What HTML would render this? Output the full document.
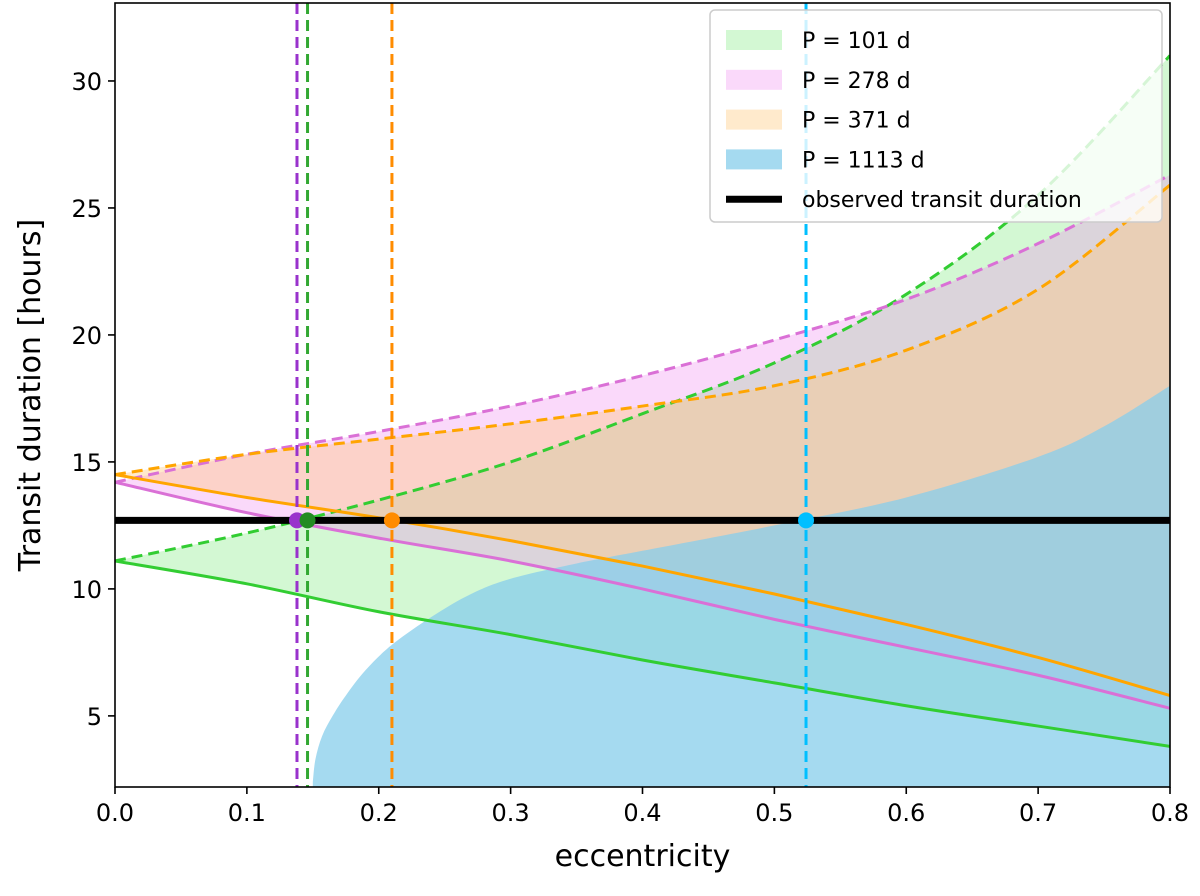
<!DOCTYPE html>
<html><head><meta charset="utf-8"><style>
body{margin:0;background:#fff;font-family:"Liberation Sans","DejaVu Sans",sans-serif}
svg text{font-family:"DejaVu Sans","Liberation Sans",sans-serif}
</style></head><body>
<svg id="c" width="1200" height="891"></svg>
<script>
const ecc=[0,0.1,0.2,0.3,0.4,0.5,0.6,0.7,0.8];
const greenUpper=[11.1,12.2,13.5,15.0,16.9,18.9,21.6,25.5,31.0];
const greenLower=[11.1,10.2,9.1,8.2,7.2,6.3,5.4,4.6,3.8];
const violetUpper=[14.2,15.3,16.2,17.2,18.4,19.8,21.4,23.6,26.3];
const violetLower=[14.2,13.0,12.0,11.1,10.0,8.8,7.7,6.6,5.3];
const orangeUpper=[14.5,15.3,15.9,16.5,17.2,18.0,19.4,21.8,25.9];
const orangeLower=[14.5,13.6,12.8,11.9,10.9,9.8,8.6,7.3,5.8];
const blueEcc=[0.15,0.152,0.157,0.165,0.175,0.19,0.21,0.24,0.27,0.3,0.35,0.4,0.5,0.6,0.7,0.75,0.8];
const blueUpper=[2.4,3.3,4.2,5.0,5.8,6.8,7.8,8.9,9.8,10.4,11.0,11.5,12.5,13.6,15.2,16.4,18.0];
const observed=12.7;
const solutions=[0.138,0.146,0.21,0.524];
const solColors=['#9932cc','#228b22','#ff8c00','#00bfff'];
const solNames=['p278','p101','p371','p1113'];
const xTicks=[0,0.1,0.2,0.3,0.4,0.5,0.6,0.7,0.8];
const yTicks=[5,10,15,20,25,30];
const legendLabels=['P = 101 d','P = 278 d','P = 371 d','P = 1113 d','observed transit duration'];

const L=115,R=1170,T=3,B=787,yMin=2.2,yMax=33.07;
const X=v=>L+v/0.8*(R-L);
const Y=v=>B-(v-yMin)/(yMax-yMin)*(B-T);
const svg=document.getElementById('c');
const NS='http://www.w3.org/2000/svg';
function mk(tag,attrs,parent){const e=document.createElementNS(NS,tag);for(const k in attrs)e.setAttribute(k,attrs[k]);(parent||svg).appendChild(e);return e;}
const defs=mk('defs',{});const cp=mk('clipPath',{id:'clip'},defs);mk('rect',{x:L,y:T,width:R-L,height:B-T},cp);
const g=mk('g',{'clip-path':'url(#clip)'});
// smooth via Catmull-Rom
function path(xs,ys){const p=xs.map((x,i)=>[X(x),Y(ys[i])]);let d='M'+p[0][0]+','+p[0][1];
for(let i=0;i<p.length-1;i++){const p0=p[i-1]||p[i],p1=p[i],p2=p[i+1],p3=p[i+2]||p2;
d+=' C'+(p1[0]+(p2[0]-p0[0])/6)+','+(p1[1]+(p2[1]-p0[1])/6)+' '+(p2[0]-(p3[0]-p1[0])/6)+','+(p2[1]-(p3[1]-p1[1])/6)+' '+p2[0]+','+p2[1];}
return d;}
function band(xs,up,lo,fill,name){
  const rx=xs.slice().reverse(),rl=lo.slice().reverse();
  const d=path(xs,up)+' L'+path(rx,rl).slice(1)+' Z';
  const e=mk('path',{d:d,fill:fill},g);
  }
function line(xs,ys,col,dash,name){
  const e=mk('path',{d:path(xs,ys),fill:'none',stroke:col,'stroke-width':3,'stroke-dasharray':dash?'11,6':'none'},g);
  }
band(ecc,greenUpper,greenLower,'rgba(144,238,144,0.4)','band-p101');
band(ecc,violetUpper,violetLower,'rgba(238,130,238,0.3)','band-p278');
band(ecc,orangeUpper,orangeLower,'rgba(255,200,120,0.38)','band-p371');
band(blueEcc,blueUpper,blueEcc.map(()=>yMin-1),'rgba(135,206,235,0.75)','band-p1113');
line(ecc,greenUpper,'#32cd32',true,'p101-upper');line(ecc,greenLower,'#32cd32',false,'p101-lower');
line(ecc,violetUpper,'#da70d6',true,'p278-upper');line(ecc,violetLower,'#da70d6',false,'p278-lower');
line(ecc,orangeUpper,'#ffa500',true,'p371-upper');line(ecc,orangeLower,'#ffa500',false,'p371-lower');
const vc=['#9932cc','#32a832','#ff8c00','#00bfff'];
solutions.forEach((s,i)=>{const e=mk('line',{x1:X(s),x2:X(s),y1:T,y2:B,stroke:vc[i],'stroke-width':3,'stroke-dasharray':'11,6'},g);
});
const ob=mk('line',{x1:L,x2:R,y1:Y(observed),y2:Y(observed),stroke:'#000','stroke-width':7},g);

solutions.forEach((s,i)=>{const e=mk('circle',{cx:X(s),cy:Y(observed),r:8,fill:solColors[i]},g);
});
const fr=mk('rect',{x:L,y:T,width:R-L,height:B-T,fill:'none',stroke:'#000','stroke-width':1.6});

xTicks.forEach(t=>{mk('line',{x1:X(t),x2:X(t),y1:B,y2:B+7,stroke:'#000','stroke-width':1.6});
const e=mk('text',{x:X(t),y:B+34,'font-size':24,'text-anchor':'middle'});e.textContent=t.toFixed(1);
});
yTicks.forEach(t=>{mk('line',{x1:L-7,x2:L,y1:Y(t),y2:Y(t),stroke:'#000','stroke-width':1.6});
const e=mk('text',{x:L-13,y:Y(t)+9,'font-size':24,'text-anchor':'end'});e.textContent=t;
});
const xl=mk('text',{x:(L+R)/2,y:866,'font-size':30,'text-anchor':'middle'});xl.textContent='eccentricity';

const yl=mk('text',{x:0,y:0,'font-size':30,'text-anchor':'middle',transform:'translate(40,395) rotate(-90)'});yl.textContent='Transit duration [hours]';

const lg=mk('g',{});
mk('rect',{x:710,y:10,width:452,height:212,rx:5,fill:'rgba(255,255,255,0.8)',stroke:'#ccc','stroke-width':1.5},lg);
const lf=['rgba(144,238,144,0.4)','rgba(238,130,238,0.3)','rgba(255,200,120,0.38)','rgba(135,206,235,0.75)'];
legendLabels.forEach((lab,i)=>{const y=40+i*39.8;
if(i<4)mk('rect',{x:726,y:y-10,width:56,height:20,fill:lf[i]},lg);
else mk('line',{x1:726,x2:782,y1:y,y2:y,stroke:'#000','stroke-width':7},lg);
const e=mk('text',{x:802,y:y+8,'font-size':22},lg);e.textContent=lab;
});
</script>
</body></html>
